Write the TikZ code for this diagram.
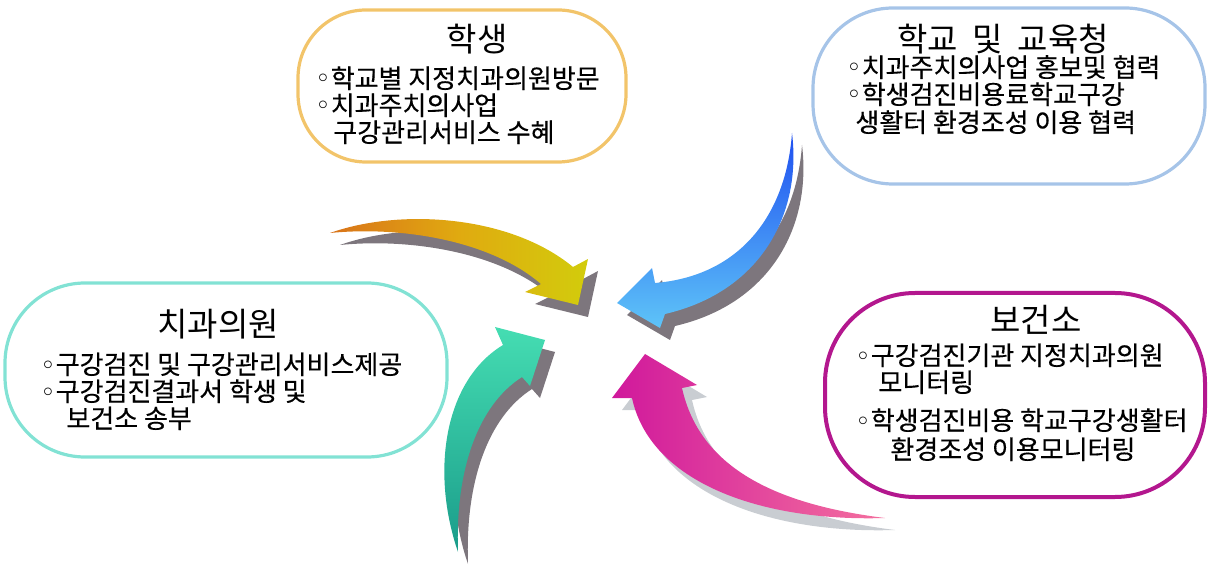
\documentclass[tikz,border=0pt]{standalone}
\usepackage{fontspec}
\setmainfont{Noto Sans CJK KR}
\newfontfamily\bodyfont{Noto Sans CJK KR}[FakeBold=0.35]
\newfontfamily\bulfont{DejaVu Sans}
\newcommand{\bul}{{\bulfont ◦}}

% 색
\definecolor{hsline}{HTML}{F2C46A}
\definecolor{hgline}{HTML}{A6C4E8}
\definecolor{cgline}{HTML}{82E2D4}
\definecolor{bgline}{HTML}{B3178E}
\definecolor{ylworange}{HTML}{D9731A}
\definecolor{ylwmid}{HTML}{E0AA10}
\definecolor{ylwhead}{HTML}{D2CC0C}
\definecolor{bluedark}{HTML}{1F4FF0}
\definecolor{bluelight}{HTML}{5EC4F8}
\definecolor{tealdark}{HTML}{1A9C8A}
\definecolor{teallight}{HTML}{45DDB2}
\definecolor{magdark}{HTML}{D0189C}
\definecolor{magpink}{HTML}{F4709E}
\definecolor{shgray}{HTML}{7D767D}
\definecolor{shlight}{HTML}{C9CDD2}

% 화살표 모양 (px 좌표)
\newcommand{\ylwpath}{(330,233) .. controls (400,208) and (510,215) .. (573,267) -- (588,259) -- (578,305) -- (525,292) -- (541,284) .. controls (490,240) and (400,226) .. (330,233) -- cycle}
\newcommand{\bluepath}{(792,133) .. controls (786,215) and (740,276) .. (655,283) -- (652,268) -- (617,303) -- (660,328) -- (665,314) .. controls (760,292) and (802,215) .. (792,133) -- cycle}
\newcommand{\tealpath}{(458,552) .. controls (430,470) and (445,380) .. (503,345) -- (495,327) -- (545,340) -- (530,386) -- (522,377) .. controls (478,405) and (455,470) .. (458,552) -- cycle}
\newcommand{\magpath}{(885,518) .. controls (780,505) and (700,470) .. (682,388) -- (697,385) -- (645,354) -- (612,398) -- (632,398) .. controls (650,482) and (760,522) .. (885,518) -- cycle}

\begin{document}
\begin{tikzpicture}[x=0.5pt, y=-0.5pt,
    box/.style={draw, line width=1.6pt, rounded corners=34pt, inner sep=0pt},
    ttl/.style={anchor=base, font=\fontsize{16.5}{19}\selectfont, inner sep=0pt},
    txt/.style={anchor=base west, font=\bodyfont\fontsize{13}{15}\selectfont, inner sep=0pt}]

    \useasboundingbox (0,0) rectangle (1209,566);

    % 그림자
    \begin{scope}[shift={(10,12)}]
        \fill[shgray] \ylwpath;
        \fill[shgray] \bluepath;
        \fill[shgray] \tealpath;
        \fill[shlight] \magpath;
    \end{scope}

    % 화살표
    \shade[left color=ylworange, right color=ylwhead, middle color=ylwmid] \ylwpath;
    \shade[top color=bluedark, bottom color=bluelight] \bluepath;
    \shade[top color=teallight, bottom color=tealdark] \tealpath;
    \shade[left color=magdark, right color=magpink] \magpath;

    % 학생
    \node[box, draw=hsline, minimum width=164pt, minimum height=76pt] (hs) at (462,86) {};
    \node[ttl] (hs-t) at (477,52) {학생};
    \node[txt] (hs-1) at (315,88) {\bul 학교별 지정치과의원방문};
    \node[txt] (hs-2) at (315,115) {\bul 치과주치의사업};
    \node[txt] (hs-3) at (333,142) {구강관리서비스 수혜};

    % 학교 및 교육청
    \node[box, draw=hgline, minimum width=196pt, minimum height=88pt, rounded corners=40pt] (hg) at (1009,96) {};
    \node[ttl] (hg-t) at (1003,52) {학교\hspace{0.45em}및\hspace{0.45em}교육청};
    \node[txt] (hg-1) at (846,77) {\bul 치과주치의사업 홍보및 협력};
    \node[txt] (hg-2) at (846,104) {\bul 학생검진비용료학교구강};
    \node[txt] (hg-3) at (855,132) {생활터 환경조성 이용 협력};

    % 치과의원
    \node[box, draw=cgline, minimum width=221pt, minimum height=87pt, rounded corners=40pt] (cg) at (226,370) {};
    \node[ttl] (cg-t) at (218,337) {치과의원};
    \node[txt] (cg-1) at (40,374) {\bul 구강검진 및 구강관리서비스제공};
    \node[txt] (cg-2) at (40,401) {\bul 구강검진결과서 학생 및};
    \node[txt] (cg-3) at (66,428) {보건소 송부};

    % 보건소
    \node[box, draw=bgline, line width=2pt, minimum width=190pt, minimum height=102pt, rounded corners=45pt] (bg) at (1015,395) {};
    \node[ttl] (bg-t) at (1036,333) {보건소};
    \node[txt] (bg-1) at (855,365) {\bul 구강검진기관 지정치과의원};
    \node[txt] (bg-2) at (878,392) {모니터링};
    \node[txt] (bg-3) at (855,430) {\bul 학생검진비용 학교구강생활터};
    \node[txt] (bg-4) at (890,459) {환경조성 이용모니터링};
\end{tikzpicture}
\end{document}
